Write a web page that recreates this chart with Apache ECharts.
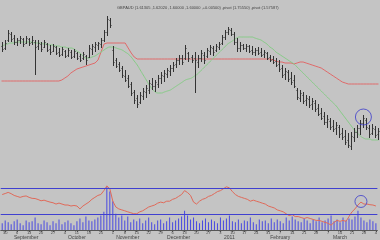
<!DOCTYPE html>
<html><head><meta charset="utf-8">
<script src="https://cdn.jsdelivr.net/npm/echarts@6/dist/echarts.min.js"></script>
<style>html,body{margin:0;padding:0;background:#c4c4c4}#c{width:380px;height:240px}</style>
</head><body><div id="c"></div>
<script>
// OHLC as [open, close, low, high]
const ohlc = [
[1.654,1.651,1.648,1.658],[1.652,1.657,1.650,1.660],[1.660,1.667,1.658,1.670],[1.666,1.661,1.658,1.668],
[1.662,1.658,1.655,1.665],[1.658,1.660,1.654,1.662],[1.660,1.662,1.656,1.664],[1.661,1.656,1.653,1.662],
[1.657,1.662,1.656,1.664],[1.661,1.657,1.654,1.662],[1.658,1.660,1.655,1.664],[1.658,1.653,1.625,1.660],
[1.654,1.657,1.650,1.660],[1.656,1.651,1.648,1.658],[1.653,1.658,1.652,1.660],[1.656,1.650,1.648,1.657],
[1.651,1.648,1.645,1.655],[1.649,1.654,1.648,1.656],[1.653,1.647,1.645,1.654],[1.648,1.645,1.643,1.652],
[1.646,1.651,1.644,1.653],[1.649,1.644,1.642,1.650],[1.645,1.650,1.643,1.652],[1.648,1.643,1.641,1.650],
[1.644,1.649,1.642,1.651],[1.647,1.642,1.640,1.648],[1.644,1.640,1.638,1.646],[1.642,1.646,1.640,1.648],
[1.644,1.640,1.635,1.645],[1.643,1.652,1.642,1.655],[1.651,1.654,1.645,1.656],[1.653,1.656,1.648,1.658],
[1.655,1.657,1.650,1.658],[1.656,1.660,1.652,1.662],[1.660,1.668,1.658,1.670],[1.668,1.681,1.664,1.684],
[1.680,1.675,1.672,1.682],[1.650,1.638,1.634,1.654],[1.640,1.634,1.632,1.642],[1.636,1.630,1.628,1.638],
[1.632,1.625,1.622,1.634],[1.624,1.620,1.618,1.630],[1.622,1.614,1.612,1.625],[1.616,1.607,1.604,1.618],
[1.608,1.600,1.596,1.610],[1.602,1.596,1.592,1.605],[1.598,1.605,1.596,1.608],[1.604,1.609,1.600,1.612],
[1.608,1.612,1.602,1.615],[1.610,1.617,1.606,1.620],[1.616,1.614,1.610,1.622],[1.614,1.618,1.608,1.620],
[1.616,1.622,1.612,1.625],[1.622,1.625,1.616,1.628],[1.624,1.627,1.618,1.630],[1.626,1.630,1.622,1.632],
[1.629,1.632,1.624,1.635],[1.632,1.635,1.628,1.638],[1.636,1.640,1.632,1.642],[1.640,1.642,1.635,1.645],
[1.642,1.638,1.635,1.645],[1.642,1.652,1.640,1.655],[1.647,1.642,1.638,1.648],[1.643,1.640,1.637,1.645],
[1.642,1.640,1.607,1.648],[1.638,1.642,1.632,1.645],[1.642,1.647,1.638,1.650],[1.645,1.640,1.636,1.648],
[1.644,1.650,1.642,1.652],[1.649,1.653,1.645,1.655],[1.652,1.648,1.644,1.654],[1.650,1.654,1.648,1.656],
[1.653,1.656,1.650,1.658],[1.657,1.663,1.655,1.665],[1.663,1.668,1.660,1.670],[1.668,1.671,1.665,1.673],
[1.670,1.666,1.664,1.672],[1.666,1.658,1.655,1.668],[1.658,1.652,1.648,1.662],[1.652,1.655,1.648,1.658],
[1.655,1.652,1.650,1.656],[1.652,1.654,1.648,1.656],[1.654,1.649,1.647,1.655],[1.650,1.648,1.645,1.654],
[1.648,1.650,1.644,1.652],[1.650,1.647,1.645,1.653],[1.648,1.645,1.643,1.652],[1.646,1.648,1.642,1.650],
[1.647,1.642,1.640,1.648],[1.643,1.640,1.638,1.645],[1.641,1.638,1.636,1.644],[1.639,1.635,1.633,1.642],
[1.636,1.631,1.628,1.640],[1.632,1.625,1.622,1.635],[1.626,1.629,1.620,1.632],[1.628,1.621,1.618,1.630],
[1.622,1.618,1.615,1.628],[1.620,1.614,1.612,1.625],[1.610,1.603,1.600,1.612],[1.602,1.607,1.598,1.610],
[1.605,1.599,1.596,1.608],[1.600,1.602,1.594,1.605],[1.601,1.595,1.592,1.604],[1.596,1.599,1.590,1.602],
[1.597,1.591,1.588,1.600],[1.592,1.586,1.584,1.596],[1.587,1.582,1.580,1.592],[1.584,1.578,1.575,1.588],
[1.578,1.581,1.572,1.585],[1.579,1.573,1.570,1.582],[1.574,1.571,1.568,1.580],[1.572,1.575,1.565,1.578],
[1.573,1.566,1.562,1.575],[1.567,1.563,1.560,1.572],[1.564,1.558,1.555,1.570],[1.560,1.555,1.552,1.567],
[1.554,1.564,1.550,1.568],[1.563,1.568,1.558,1.572],[1.568,1.572,1.562,1.575],[1.572,1.577,1.565,1.580],
[1.577,1.582,1.572,1.585],[1.580,1.573,1.570,1.582],[1.572,1.566,1.562,1.575],[1.567,1.572,1.565,1.576],
[1.571,1.565,1.562,1.574],[1.566,1.569,1.560,1.572]
];
const stopLine = [
1.619,1.619,1.619,1.619,1.619,1.619,1.619,1.619,1.619,1.619,
1.619,1.619,1.619,1.619,1.619,1.619,1.619,1.619,1.619,1.619,
1.620,1.622,1.624,1.627,1.629,1.631,1.632,1.633,1.634,1.635,
1.636,1.637,1.640,1.648,1.656,1.657,1.657,1.657,1.657,1.657,
1.657,1.657,1.652,1.647,1.643,1.641,1.641,1.641,1.641,1.641,
1.641,1.641,1.641,1.641,1.641,1.641,1.641,1.641,1.641,1.641,
1.641,1.641,1.641,1.641,1.641,1.641,1.641,1.641,1.641,1.641,
1.641,1.641,1.641,1.641,1.641,1.641,1.641,1.641,1.641,1.641,
1.641,1.641,1.641,1.641,1.641,1.641,1.641,1.641,1.641,1.641,
1.640,1.639,1.638,1.638,1.637,1.637,1.637,1.636,1.637,1.638,
1.638,1.637,1.636,1.635,1.634,1.633,1.632,1.630,1.628,1.626,
1.624,1.622,1.620,1.618,1.617,1.616,1.616,1.616,1.616,1.616,
1.616,1.616,1.616,1.616,1.616,1.616
];
const maLine = [
1.654,1.655,1.656,1.657,1.657,1.658,1.658,1.658,1.658,1.658,
1.658,1.657,1.657,1.657,1.656,1.656,1.655,1.655,1.654,1.654,
1.653,1.653,1.652,1.652,1.651,1.649,1.647,1.644,1.642,1.642,
1.643,1.644,1.646,1.648,1.650,1.652,1.653,1.653,1.652,1.651,
1.650,1.648,1.646,1.643,1.639,1.635,1.630,1.625,1.620,1.615,
1.611,1.608,1.607,1.607,1.608,1.609,1.610,1.612,1.614,1.616,
1.618,1.620,1.621,1.622,1.624,1.626,1.629,1.632,1.635,1.638,
1.641,1.644,1.647,1.650,1.653,1.656,1.658,1.660,1.662,1.663,
1.663,1.663,1.663,1.663,1.662,1.661,1.660,1.658,1.656,1.653,
1.651,1.648,1.646,1.644,1.642,1.640,1.638,1.636,1.633,1.630,
1.627,1.624,1.621,1.618,1.615,1.612,1.609,1.606,1.603,1.600,
1.597,1.594,1.590,1.586,1.582,1.578,1.574,1.570,1.567,1.564,
1.562,1.561,1.561,1.560,1.560,1.560
];
const oscLine = [
59.7,61.2,63,61,58.3,56.8,55.3,56.8,57.5,55.3,
53.8,53.5,52,50,51,49.4,48,47,45,46.5,
45,43.5,43.5,42,42.8,42,37.5,42,45,48,
52.3,55.3,58.3,59.7,65.7,73,68.6,49.4,40.5,37.5,
36,34.6,33,31.6,30.1,30,33,34.6,37.5,40.5,
42,43.5,46.4,48,47,49.4,49.4,52.3,53.8,56.8,
59.7,65.7,62.7,58.3,48,45,49.4,52.3,53.8,56.8,
58.3,61.2,64.2,65.7,68.6,71.6,70,64.2,59.7,56.8,
55.3,53.8,52.3,49.4,51,49.4,48,46.4,45,42,
40.5,39,36,34.6,33,30,27.2,28.7,25.7,25.7,
24.2,22.8,24.2,22.8,21.3,19.8,19.8,18.3,16.8,15.4,
12.4,16.8,19.8,18.3,19.8,18.3,25.7,33,37.5,43.5,
48,45,45,44,43.5,42
];
const volume = [
140,200,160,120,180,220,140,100,200,160,
180,260,140,120,200,160,100,180,140,220,
120,160,200,140,100,180,240,160,280,200,
180,220,260,300,380,900,800,600,340,260,
300,200,280,160,220,180,240,140,200,260,
160,120,200,220,140,180,260,160,200,240,
280,400,300,220,260,180,140,200,240,160,
220,180,140,260,200,240,300,180,160,220,
140,200,180,260,160,120,220,180,200,140,
240,160,220,180,140,260,200,280,220,180,
160,240,200,140,220,180,260,160,200,240,
300,180,220,160,260,200,240,220,280,400,
260,200,160,220,180,140
];
const oscLevels = [70, 30];
const highlightIndex = 120;
const highlightPrice = 1.583;
const highlightOsc = 49;
const monthLabels = ['September','October','November','December','2011','February','March'];
const monthCenters = [8, 25, 42, 59, 76, 93, 113];
const dayTickIndex = [1,5,9,13,17,21,25,29,33,37,41,45,49,53,57,61,65,69,73,77,81,85,89,93,97,101,105,109,113,117,121,125];
const dayTickLabels = ['30','6','13','20','27','4','11','18','25','1','8','15','22','29','6','13','20','27','3','10','17','24','31','7','14','21','28','7','14','21','28','4'];
const titleText = 'GBPAUD (1.61305 ,1.62020 ,1.60000 ,1.60000 ,+0.00500) ,pivot (1.75550) ,pivot (1.57587)';

const categories = ohlc.map((_, i) => String(i));
const dayMap = {}; dayTickIndex.forEach((d, k) => dayMap[d] = dayTickLabels[k]);
const monthMap = {}; monthCenters.forEach((d, k) => monthMap[d] = monthLabels[k]);
const font = 'Liberation Sans';

const chart = echarts.init(document.getElementById('c'), null, {renderer: 'canvas'});
chart.setOption({
  animation: false,
  backgroundColor: '#c4c4c4',
  title: {text: titleText, left: 112, top: 1, textStyle: {fontSize: 4, fontWeight: 'normal', color: '#444', fontFamily: font}},
  grid: [
    {left: 0, right: 0, top: 0, height: 182},
    {left: 0, right: 0, top: 182, height: 50}
  ],
  xAxis: [
    {type: 'category', gridIndex: 0, data: categories, boundaryGap: true, show: false},
    {type: 'category', gridIndex: 1, data: categories, boundaryGap: true,
      axisLine: {show: true, lineStyle: {color: '#555', width: 1}},
      axisTick: {show: true, alignWithLabel: true, interval: (i) => dayMap[i] !== undefined, length: 2, lineStyle: {color: '#555'}},
      axisLabel: {show: true, interval: (i) => dayMap[i] !== undefined, formatter: (v, i) => dayMap[i] || '', fontSize: 4, color: '#444', margin: 1, fontFamily: font}},
    {type: 'category', gridIndex: 1, data: categories, boundaryGap: true, position: 'bottom',
      axisLine: {show: false}, axisTick: {show: false},
      axisLabel: {show: true, interval: (i) => monthMap[i] !== undefined, formatter: (v, i) => monthMap[i] || '', fontSize: 5, color: '#444', margin: 5, fontFamily: font}}
  ],
  yAxis: [
    {type: 'value', gridIndex: 0, min: 1.518, max: 1.700, show: false, splitLine: {show: false}},
    {type: 'value', gridIndex: 1, min: 5, max: 79, show: false, splitLine: {show: false}},
    {type: 'value', gridIndex: 1, min: 0, max: 1000, show: false, splitLine: {show: false}}
  ],
  series: [
    {type: 'line', xAxisIndex: 0, yAxisIndex: 0, data: stopLine, symbol: 'none', lineStyle: {color: '#e06a6a', width: 1}, z: 2},
    {type: 'line', xAxisIndex: 0, yAxisIndex: 0, data: maLine, symbol: 'none', smooth: true, lineStyle: {color: '#86cc86', width: 1}, z: 2},
    {type: 'custom', xAxisIndex: 0, yAxisIndex: 0,
      data: ohlc.map((d, i) => [i, d[0], d[1], d[2], d[3]]),
      encode: {x: 0, y: [1, 2, 3, 4]},
      renderItem: function (params, api) {
        const i = api.value(0);
        const pLow = api.coord([i, api.value(3)]);
        const pHigh = api.coord([i, api.value(4)]);
        const pOpen = api.coord([i, api.value(1)]);
        const pClose = api.coord([i, api.value(2)]);
        const x = Math.round(pLow[0]) + 0.5;
        const st = {stroke: '#333', lineWidth: 1};
        return {type: 'group', children: [
          {type: 'line', shape: {x1: x, y1: pHigh[1], x2: x, y2: pLow[1]}, style: st},
          {type: 'line', shape: {x1: x - 1, y1: Math.round(pOpen[1]) + 0.5, x2: x, y2: Math.round(pOpen[1]) + 0.5}, style: st},
          {type: 'line', shape: {x1: x, y1: Math.round(pClose[1]) + 0.5, x2: x + 1, y2: Math.round(pClose[1]) + 0.5}, style: st}
        ]};
      }, z: 3},
    {type: 'scatter', xAxisIndex: 0, yAxisIndex: 0, data: [[highlightIndex, highlightPrice]], symbol: 'circle', symbolSize: 16,
      itemStyle: {color: 'rgba(0,0,0,0)', borderColor: '#3c3ccc', borderWidth: 1}, z: 4},
    {type: 'bar', xAxisIndex: 1, yAxisIndex: 2, data: volume, barWidth: 1, itemStyle: {color: '#4a4ae0'}, z: 1},
    {type: 'line', xAxisIndex: 1, yAxisIndex: 1, data: oscLine, symbol: 'none', lineStyle: {color: '#e06a5a', width: 1}, z: 3,
      markLine: {silent: true, symbol: 'none', label: {show: false}, lineStyle: {color: '#4040d0', width: 1, type: 'solid'},
        data: oscLevels.map(v => ({yAxis: v}))}},
    {type: 'scatter', xAxisIndex: 1, yAxisIndex: 1, data: [[highlightIndex, highlightOsc]], symbol: 'circle', symbolSize: 12,
      itemStyle: {color: 'rgba(0,0,0,0)', borderColor: '#3c3ccc', borderWidth: 1}, z: 4}
  ]
});
</script></body></html>
